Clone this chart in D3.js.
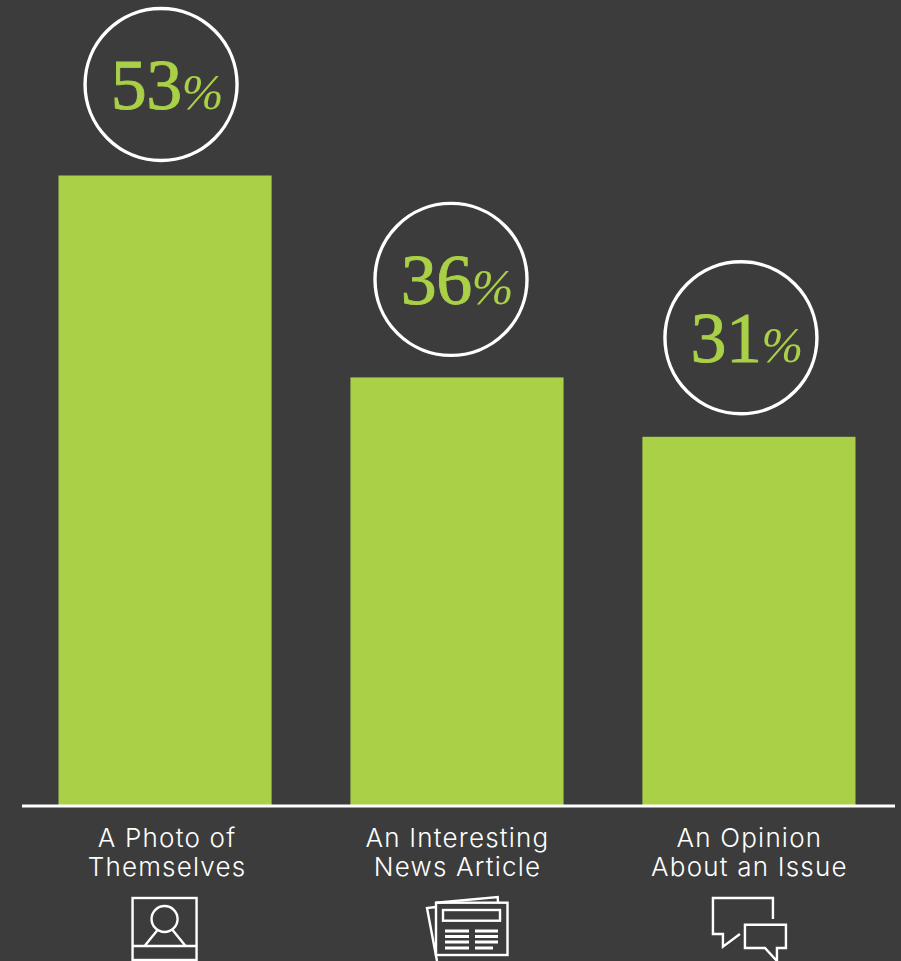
<!DOCTYPE html>
<html lang="en">
<head>
    <meta charset="UTF-8">
    <title>Bar chart</title>
    <script src="https://cdn.jsdelivr.net/npm/d3@7/dist/d3.min.js"></script>
    <style>
        html, body { margin: 0; padding: 0; background: #3c3c3c; overflow: hidden; }
        svg { display: block; }
    </style>
</head>
<body>
<script>
    // data
    const categories = ['photo', 'article', 'opinion'];
    const values = [53, 36, 31];
    const labelLines = [
        ['A Photo of', 'Themselves'],
        ['An Interesting', 'News Article'],
        ['An Opinion', 'About an Issue']
    ];

    const width = 901;
    const height = 961;
    const baseY = 805;
    const green = '#a9d046';

    const svg = d3.select('body')
        .append('svg')
        .attr('width', width)
        .attr('height', height);

    svg.append('rect')
        .attr('width', width)
        .attr('height', height)
        .attr('fill', '#3c3c3c');

    // scales
    const xScale = d3.scaleBand()
        .domain(categories)
        .range([58.5, 855.5])
        .paddingInner(0.27)
        .paddingOuter(0);

    const yScale = d3.scaleLinear()
        .domain([0, 53])
        .range([baseY, 175.5]);

    const center = i => xScale(categories[i]) + xScale.bandwidth() / 2;

    // bars
    svg.selectAll('.bar')
        .data(values)
        .enter()
        .append('rect')
        .attr('class', 'bar')
        .attr('x', (d, i) => xScale(categories[i]))
        .attr('y', d => yScale(d))
        .attr('width', xScale.bandwidth())
        .attr('height', d => baseY - yScale(d))
        .attr('fill', green);

    // baseline
    svg.append('line')
        .attr('x1', 22)
        .attr('x2', 895)
        .attr('y1', baseY + 1)
        .attr('y2', baseY + 1)
        .attr('stroke', '#fff')
        .attr('stroke-width', 2.8);

    // circles sit a bit left of the bar centre
    const circleDx = [-4, -6, -8];
    const circleDy = [-91, -98, -99];

    const badges = svg.selectAll('.badge')
        .data(values)
        .enter()
        .append('g')
        .attr('class', 'badge')
        .attr('transform', (d, i) => `translate(${center(i) + circleDx[i]}, ${yScale(d) + circleDy[i]})`);

    badges.append('circle')
        .attr('r', 76)
        .attr('fill', 'none')
        .attr('stroke', '#fff')
        .attr('stroke-width', 3.4);

    const badgeText = badges.append('text')
        .attr('x', 6)
        .attr('y', 24.5)
        .attr('text-anchor', 'middle')
        .attr('fill', green)
        .attr('font-family', '"Liberation Serif", serif');

    badgeText.append('tspan')
        .attr('font-size', 72)
        .attr('letter-spacing', -0.5)
        .attr('stroke', green)
        .attr('stroke-width', 0.9)
        .text(d => d);

    badgeText.append('tspan')
        .attr('font-size', 50)
        .attr('font-style', 'italic')
        .text('%');

    // category labels
    const labels = svg.selectAll('.label')
        .data(labelLines)
        .enter()
        .append('text')
        .attr('class', 'label')
        .attr('text-anchor', 'middle')
        .attr('fill', '#fff')
        .attr('font-family', 'Inter, sans-serif')
        .attr('font-weight', 300)
        .attr('font-size', 26)
        .attr('letter-spacing', 1.2);

    labels.selectAll('tspan')
        .data((d, i) => d.map(t => ({ t, i })))
        .enter()
        .append('tspan')
        .attr('x', d => center(d.i) + (d.i === 0 ? 2 : 0.5))
        .attr('y', (d, j) => 847 + j * 29)
        .text(d => d.t);

    // icons, drawn relative to the bar centre
    const icons = svg.selectAll('.icon')
        .data(categories)
        .enter()
        .append('g')
        .attr('class', 'icon')
        .attr('transform', (d, i) => `translate(${center(i)}, 0)`)
        .attr('fill', 'none')
        .attr('stroke', '#fff')
        .attr('stroke-width', 2.4);

    // photo
    const photo = icons.filter(d => d === 'photo');
    photo.append('rect').attr('x', -32.5).attr('y', 898).attr('width', 64).attr('height', 62);
    photo.append('path').attr('d', 'M-32.5,946H31.5M-7.5,930L-20.5,946M7.5,930L20.5,946');
    photo.append('circle').attr('cx', -0.5).attr('cy', 919).attr('r', 13);

    // newspaper
    const paper = icons.filter(d => d === 'article');
    paper.append('rect').attr('x', -21).attr('y', 902.7).attr('width', 71.5).attr('height', 52.3);
    paper.append('rect').attr('x', -14).attr('y', 910).attr('width', 57).attr('height', 10.7);
    paper.append('path').attr('d', 'M-21,907L-30,908L-20,961M-21,902.7L40.7,897L41,902.7');
    paper.append('path')
        .attr('stroke-width', 3)
        .attr('d', 'M-12,931H12M18,931H41M-12,936.5H12M18,936.5H41M-12,942H12M18,942H41M-12,948H12M18,948H36');

    // speech bubbles
    const speech = icons.filter(d => d === 'opinion');
    speech.append('path').attr('d', 'M24,919V898H-36V934H-26V946.7L-9,934');
    speech.append('path').attr('d', 'M-4,924.7H37V948H28V961L16,948H-4Z');
</script>
</body>
</html>
